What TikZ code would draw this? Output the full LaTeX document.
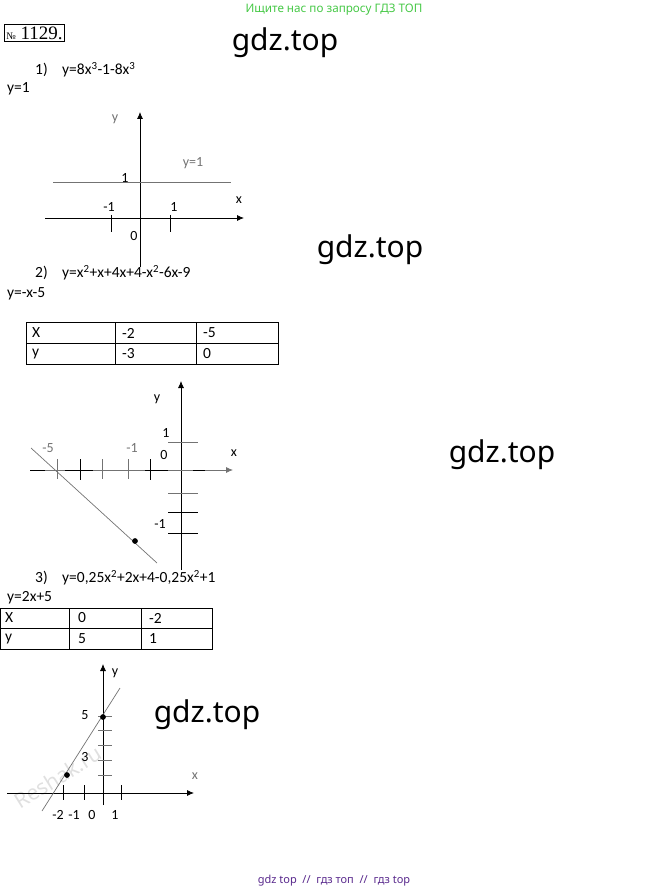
\documentclass[tikz,border=0pt]{standalone}
\usepackage{fontspec}
\usepackage{xcolor}
\usepackage{tikz}
\usetikzlibrary{positioning}
\usetikzlibrary{arrows.meta}
\setmainfont{Carlito}
\newfontfamily\webfont{Noto Sans}
\newfontfamily\boxfont{Liberation Serif}
\definecolor{hintgreen}{RGB}{70,200,70}
\definecolor{footviolet}{RGB}{88,40,140}
\definecolor{penline}{gray}{0.45}
\definecolor{marklight}{gray}{0.88}

\begin{document}
\begin{tikzpicture}[x=1pt,y=-1pt,inner sep=0pt,
  txt/.style={font=\fontsize{15.5}{18}\selectfont,anchor=west},
  lbl/.style={font=\fontsize{14}{16}\selectfont},
  glbl/.style={lbl,text=penline},
  site/.style={font=\webfont\fontsize{30}{34}\selectfont},
  axis/.style={black,line width=0.8pt,-{Latex[length=7pt,width=6pt]}},
  gaxis/.style={penline,line width=0.8pt,-{Latex[length=7pt,width=6pt]}},
  pen/.style={penline,line width=0.7pt},
  tick/.style={black,line width=0.7pt}]
\useasboundingbox (0,0) rectangle (670,893);
% header
\node[font=\webfont\fontsize{11.7}{14}\selectfont,text=hintgreen] (hint) at (334,10) {Ищите нас по запросу ГДЗ ТОП};
\node[draw,line width=0.8pt,inner sep=2pt,anchor=west,font=\boxfont\fontsize{19}{21}\selectfont] (num) at (4,33) {{\fontsize{10}{11}\selectfont №} 1129.};
\node[site] (site1) at (285,43) {gdz.top};
\node[site] (site2) at (370,250) {gdz.top};
\node[site] (site3) at (502,455) {gdz.top};
\node[site] (site4) at (207,715) {gdz.top};
% task 1
\node[txt] (n1) at (35,70) {1)};
\node[txt] (f1) at (62,70) {y=8x\textsuperscript{3}-1-8x\textsuperscript{3}};
\node[txt] (r1) at (7,89) {y=1};
\draw[axis] (140,267) -- (140,112);
\draw[axis] (45,218) -- (244,218);
\draw[pen,line width=1pt] (53,183) -- (231,183);
\draw[tick] (111,215) -- (111,232);
\draw[tick] (170,215) -- (170,232);
\node[glbl] (y1) at (115,119) {y};
\node[glbl] (l1) at (193,163) {y=1};
\node[lbl] (one1) at (125,178) {1};
\node[lbl] (x1) at (239,200) {x};
\node[lbl] (m1) at (109,207) {-1};
\node[lbl] (p1) at (174,207) {1};
\node[lbl] (o1) at (134,236) {0};
% task 2
\node[txt] (n2) at (35,273) {2)};
\node[txt] (f2) at (62,273) {y=x\textsuperscript{2}+x+4x+4-x\textsuperscript{2}-6x-9};
\node[txt] (r2) at (7,294) {y=-x-5};
\draw[line width=0.8pt] (26,322) rectangle (278,364);
\draw[line width=0.8pt] (26,343) -- (278,343);
\draw[line width=0.8pt] (115,322) -- (115,364);
\draw[line width=0.8pt] (196,322) -- (196,364);
\node[txt] (ta) at (32,333) {X};
\node[txt] (tb) at (122,333) {-2};
\node[txt] (tc) at (203,333) {-5};
\node[txt] (td) at (32,354) {y};
\node[txt] (te) at (122,354) {-3};
\node[txt] (tf) at (203,354) {0};
\draw[axis] (181,570) -- (181,381);
\draw[gaxis] (30,470) -- (233,470);
\draw[tick] (30,470) -- (45,470);
\draw[tick] (65,470) -- (93,470);
\draw[tick] (145,470) -- (168,470);
\draw[tick] (193,470) -- (205,470);
\draw[pen] (57,459) -- (57,479);
\draw[tick] (80,459) -- (80,480);
\draw[pen] (102,459) -- (102,479);
\draw[pen] (128,459) -- (128,479);
\draw[tick] (150,459) -- (150,480);
\draw[pen] (168,442) -- (198,442);
\draw[pen] (168,493) -- (198,493);
\draw[tick] (168,512) -- (198,512);
\draw[tick] (168,533) -- (198,533);
\draw[pen] (31,448) -- (157,563);
\filldraw[black] (135,541) circle (2.6pt);
\node[lbl] (y2) at (157,399) {y};
\node[lbl] (one2) at (166,433) {1};
\node[lbl] (o2) at (164,455) {0};
\node[lbl] (x2) at (234,453) {x};
\node[glbl] (m5) at (48,448) {-5};
\node[glbl] (m2) at (132,448) {-1};
\node[lbl] (mm2) at (160,524) {-1};
% task 3
\node[txt] (n3) at (35,578) {3)};
\node[txt] (f3) at (62,578) {y=0,25x\textsuperscript{2}+2x+4-0,25x\textsuperscript{2}+1};
\node[txt] (r3) at (7,598) {y=2x+5};
\draw[line width=0.8pt] (0,608) rectangle (212,649);
\draw[line width=0.8pt] (0,628) -- (212,628);
\draw[line width=0.8pt] (69,608) -- (69,649);
\draw[line width=0.8pt] (141,608) -- (141,649);
\node[txt] (ua) at (5,618) {X};
\node[txt] (ub) at (78,618) {0};
\node[txt] (uc) at (149,618) {-2};
\node[txt] (ud) at (5,639) {y};
\node[txt] (ue) at (78,639) {5};
\node[txt] (uf) at (149,639) {1};
\node[font=\webfont\fontsize{21}{23}\selectfont,text=marklight,rotate=32] (mark) at (58,777) {Reshak.ru};
\draw[axis] (103,805) -- (103,664);
\draw[axis] (7,793) -- (194,793);
\draw[tick] (63,785) -- (63,800);
\draw[tick] (84,785) -- (84,800);
\draw[tick] (121,785) -- (121,800);
\foreach \k in {716,730,745,760,775}
  \draw[pen] (98,\k) -- (112,\k);
\draw[pen] (42,811) -- (120,688);
\filldraw[black] (67,775) circle (2.6pt);
\filldraw[black] (103,717) circle (2.6pt);
\node[lbl] (y3) at (115,673) {y};
\node[lbl] (five3) at (85,715) {5};
\node[lbl] (three3) at (85,757) {3};
\node[glbl] (x3) at (195,776) {x};
\node[lbl] (m23) at (58,815) {-2};
\node[lbl] (m13) at (74,815) {-1};
\node[lbl] (o3) at (92,815) {0};
\node[lbl] (p3) at (115,815) {1};
% footer
\node[font=\webfont\fontsize{11}{13}\selectfont,text=footviolet] (foot) at (334,881) {gdz top \ // \ гдз топ \ // \ гдз top};
\end{tikzpicture}
\end{document}
